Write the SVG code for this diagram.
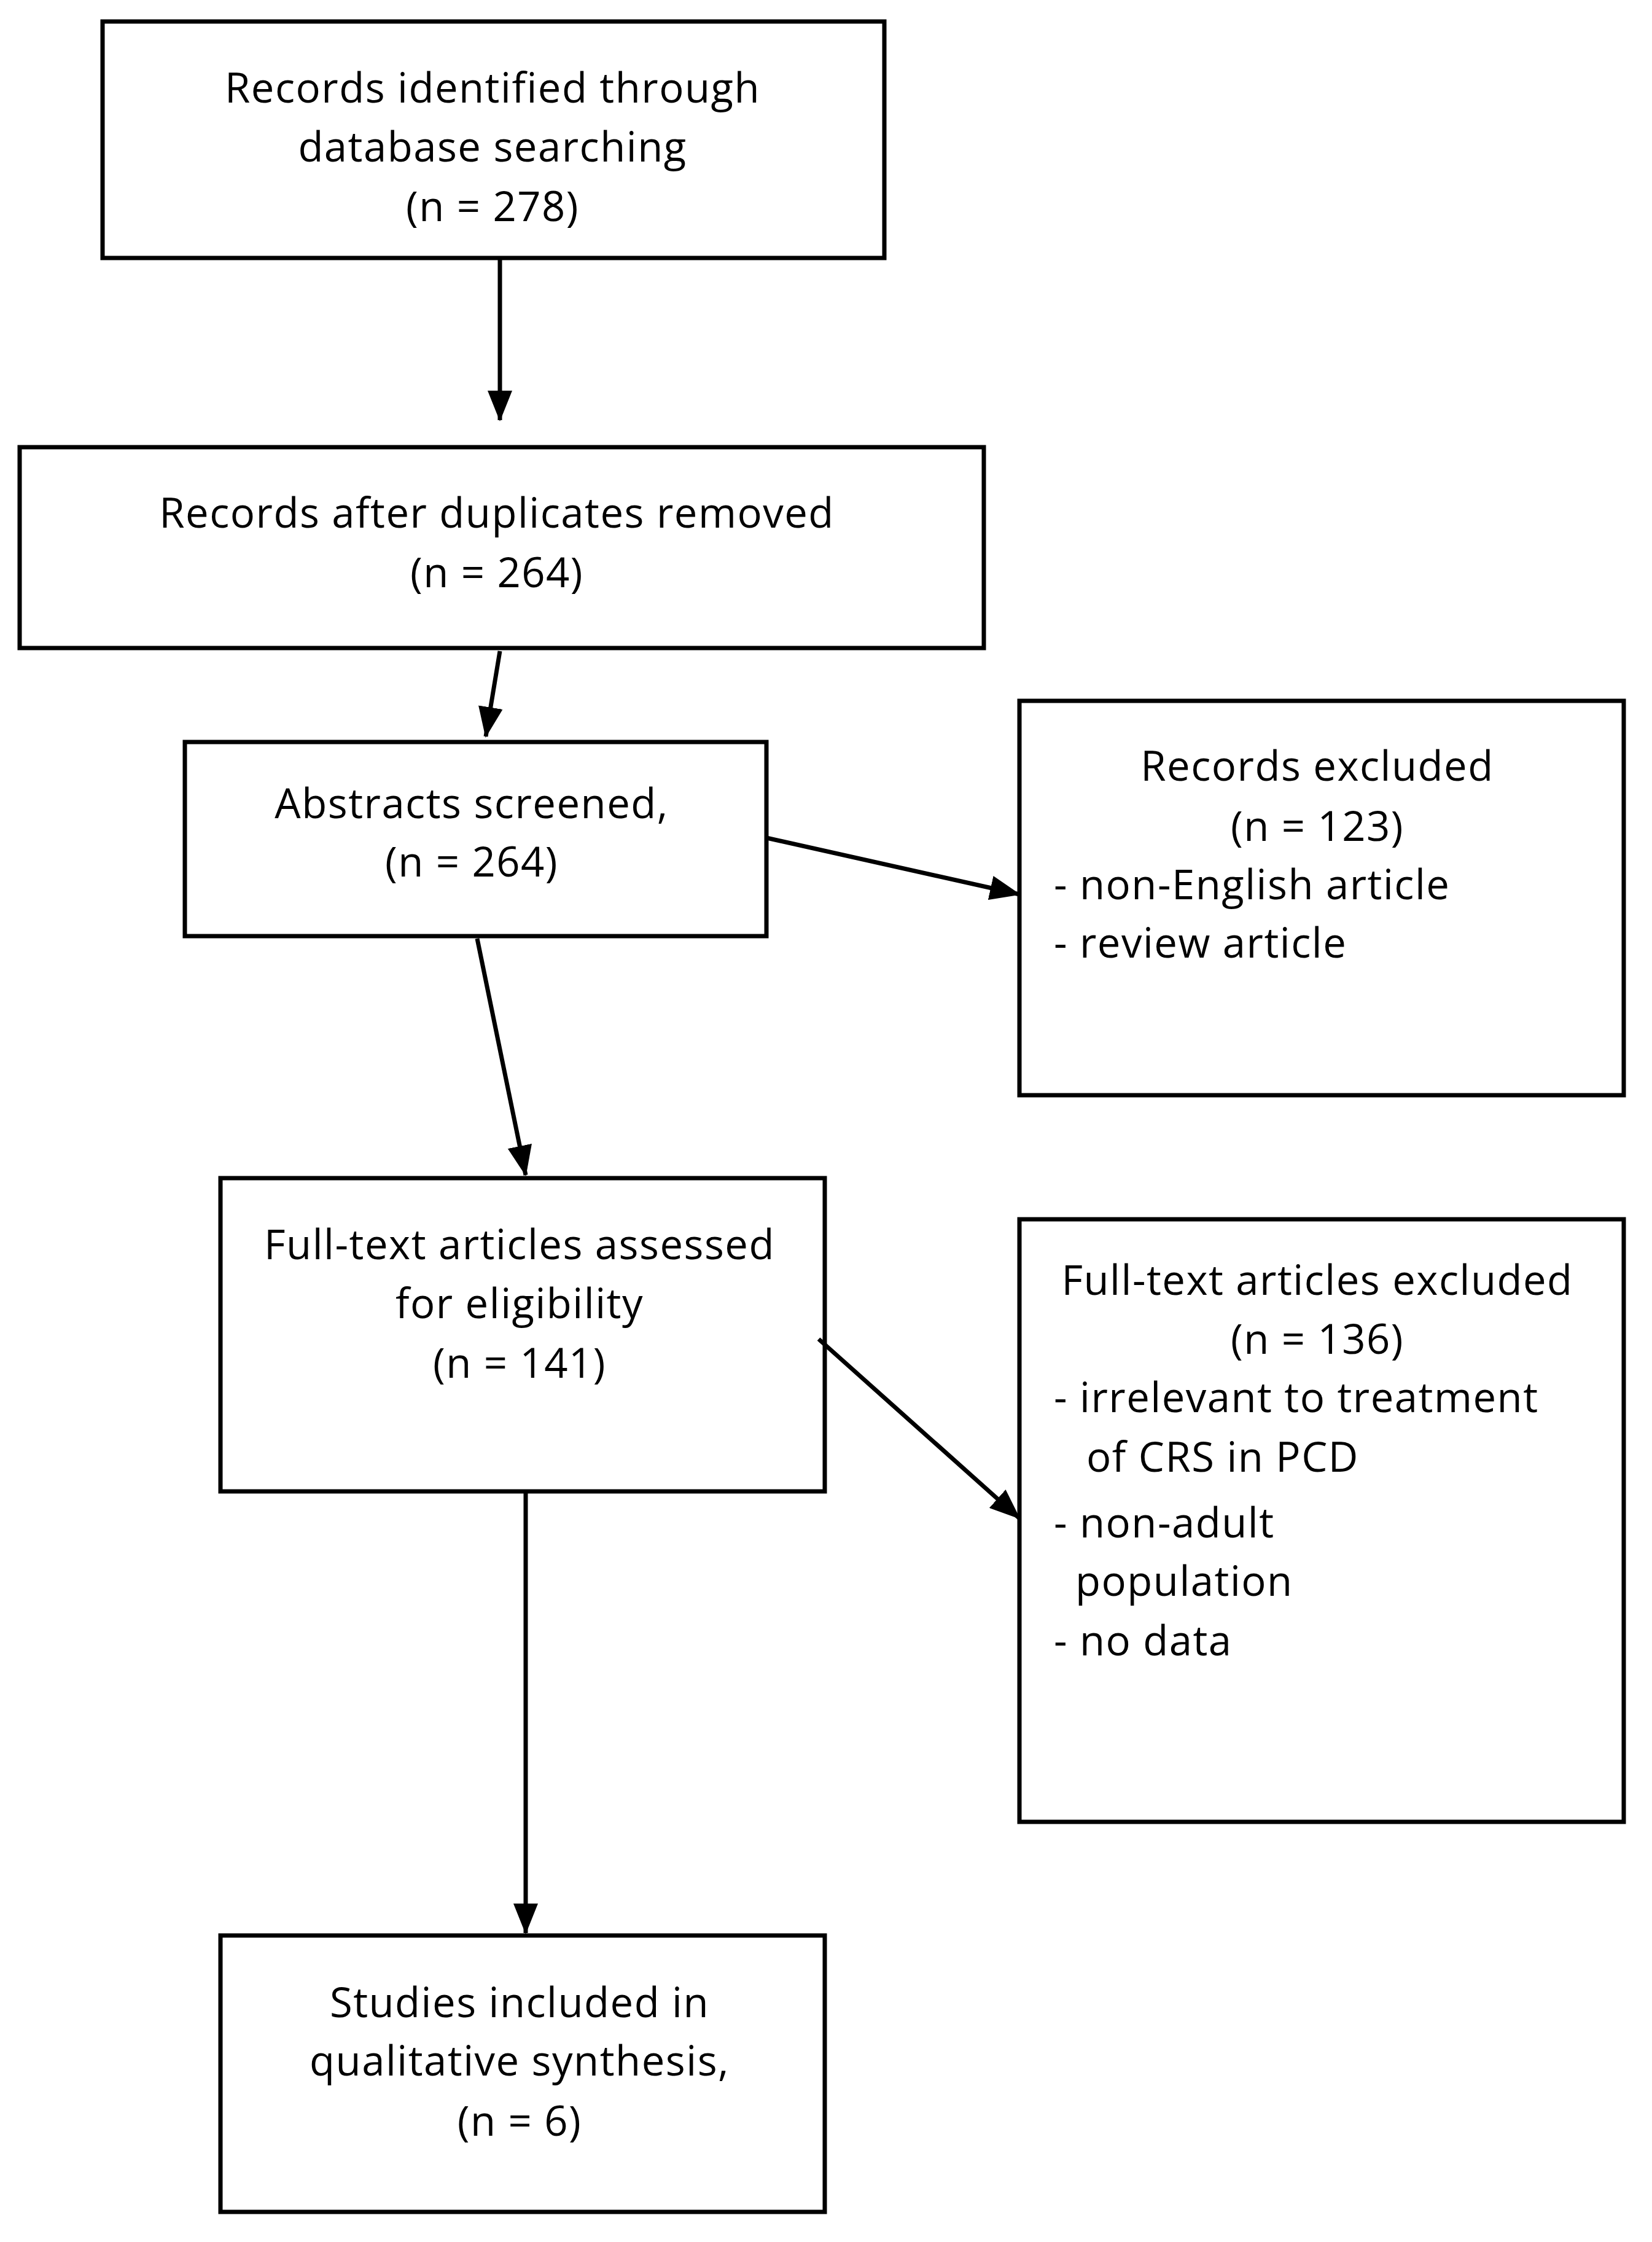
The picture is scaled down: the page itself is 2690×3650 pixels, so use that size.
<svg xmlns="http://www.w3.org/2000/svg" width="2690" height="3650" viewBox="0 0 2690 3650">
<style>
rect{fill:#fff;stroke:#000;stroke-width:7}
text{font-family:"Open Sans","Liberation Sans",sans-serif;font-size:67px;letter-spacing:1.5px;font-weight:500;fill:#000;dominant-baseline:central}
.c{text-anchor:middle}
line{stroke:#000;stroke-width:7}
</style>
<defs><marker id="a" markerUnits="userSpaceOnUse" markerWidth="50" markerHeight="40" refX="48" refY="20" orient="auto"><path d="M0,0L50,20L0,40Z" fill="#000"/></marker></defs>
<rect width="2690" height="3650" style="stroke:none"/>
<g id="n1"><rect x="167" y="35" width="1273" height="385"/><text class="c" x="802" y="141">Records identified through</text><text class="c" x="802" y="237">database searching</text><text class="c" x="802" y="334">(n = 278)</text></g>
<g id="n2"><rect x="32" y="728" width="1570" height="327"/><text class="c" x="809" y="833">Records after duplicates removed</text><text class="c" x="809" y="930">(n = 264)</text></g>
<g id="n3"><rect x="301" y="1208" width="947" height="316"/><text class="c" x="768" y="1306">Abstracts screened,</text><text class="c" x="768" y="1401">(n = 264)</text></g>
<g id="n4"><rect x="1660" y="1141" width="984" height="642"/><text class="c" x="2145" y="1245">Records excluded</text><text class="c" x="2145" y="1343">(n = 123)</text><text x="1716" y="1438">- non-English article</text><text x="1716" y="1533">- review article</text></g>
<g id="n5"><rect x="359" y="1918" width="984" height="510"/><text class="c" x="846" y="2024">Full-text articles assessed</text><text class="c" x="846" y="2120">for eligibility</text><text class="c" x="846" y="2217">(n = 141)</text></g>
<g id="n6"><rect x="1660" y="1985" width="984" height="981"/><text class="c" x="2145" y="2082">Full-text articles excluded</text><text class="c" x="2145" y="2178">(n = 136)</text><text x="1716" y="2273">- irrelevant to treatment</text><text x="1769" y="2370">of CRS in PCD</text><text x="1716" y="2477">- non-adult</text><text x="1751" y="2572">population</text><text x="1716" y="2669">- no data</text></g>
<g id="n7"><rect x="359" y="3151" width="984" height="450"/><text class="c" x="846" y="3258">Studies included in</text><text class="c" x="846" y="3353">qualitative synthesis,</text><text class="c" x="846" y="3451">(n = 6)</text></g>
<g id="connectors">
<line x1="814" y1="420" x2="814" y2="684" marker-end="url(#a)"/>
<line x1="814" y1="1060" x2="791" y2="1199" marker-end="url(#a)"/>
<line x1="1248" y1="1364" x2="1660" y2="1456" marker-end="url(#a)"/>
<line x1="777" y1="1528" x2="856" y2="1913" marker-end="url(#a)"/>
<line x1="1333" y1="2180" x2="1660" y2="2472" marker-end="url(#a)"/>
<line x1="856" y1="2428" x2="856" y2="3147" marker-end="url(#a)"/>
</g>
</svg>
